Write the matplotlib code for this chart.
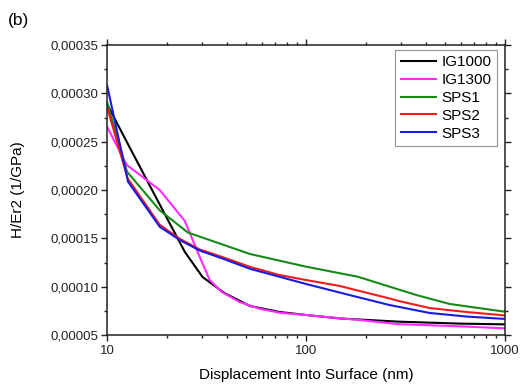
import matplotlib
matplotlib.use("Agg")
import matplotlib.pyplot as plt
from matplotlib.ticker import FuncFormatter, MultipleLocator, LogLocator, NullFormatter

plt.rcParams['font.family'] = ['Liberation Sans', 'DejaVu Sans']

# --- data ---
x_ig1000 = [10, 12.7, 18.4, 24.6, 30.2, 38.9, 52.3, 73.8, 100, 148, 220, 292, 590, 1000]
y_ig1000 = [2.89e-4, 2.48e-4, 1.85e-4, 1.36e-4, 1.10e-4, 0.934e-4, 0.80e-4, 0.738e-4,
            0.707e-4, 0.671e-4, 0.652e-4, 0.638e-4, 0.618e-4, 0.610e-4]

x_ig1300 = [10, 12.56, 18.4, 24.6, 29.2, 32.8, 37.7, 46.4, 58.5, 73.8, 100, 148, 186,
            292, 590, 1000]
y_ig1300 = [2.655e-4, 2.26e-4, 2.00e-4, 1.68e-4, 1.31e-4, 1.07e-4, 0.945e-4, 0.841e-4,
            0.772e-4, 0.73e-4, 0.707e-4, 0.673e-4, 0.655e-4, 0.612e-4, 0.590e-4, 0.569e-4]

x_sps1 = [10, 12.6, 18.4, 25.5, 52.3, 100, 182, 263, 358, 527, 1000]
y_sps1 = [2.91e-4, 2.19e-4, 1.79e-4, 1.56e-4, 1.338e-4, 1.207e-4, 1.103e-4, 1.00e-4,
          0.914e-4, 0.821e-4, 0.741e-4]

x_sps2 = [10, 12.7, 18.4, 23.2, 29.2, 37, 52.3, 73.8, 100, 148, 186, 263, 292, 418, 641, 1000]
y_sps2 = [2.86e-4, 2.12e-4, 1.64e-4, 1.495e-4, 1.385e-4, 1.315e-4, 1.205e-4, 1.12e-4,
          1.069e-4, 1.007e-4, 0.955e-4, 0.878e-4, 0.852e-4, 0.779e-4, 0.738e-4, 0.702e-4]

x_sps3 = [10, 12.75, 18.4, 23.2, 29.2, 37, 52.3, 100, 165, 263, 418, 641, 1000]
y_sps3 = [3.086e-4, 2.086e-4, 1.62e-4, 1.483e-4, 1.374e-4, 1.30e-4, 1.185e-4, 1.028e-4,
          0.914e-4, 0.81e-4, 0.728e-4, 0.691e-4, 0.666e-4]

names = ["IG1000", "IG1300", "SPS1", "SPS2", "SPS3"]
colores = ["#000000", "#ff2bff", "#168a16", "#f01c1c", "#1a1ae0"]

fig = plt.figure(figsize=(5.21, 3.92), dpi=100)
ax = fig.add_axes([0.2054, 0.1454, 0.7639, 0.7398])

series = [(x_ig1000, y_ig1000), (x_ig1300, y_ig1300), (x_sps1, y_sps1),
          (x_sps2, y_sps2), (x_sps3, y_sps3)]
for (xs, ys), nom, col in zip(series, names, colores):
    ax.plot(xs, ys, color=col, lw=1.5, label=nom)

ax.set_xscale('log')
ax.set_xlim(10, 1000)
ax.set_ylim(0.00005, 0.00035)

ax.yaxis.set_major_locator(MultipleLocator(0.00005))
ax.yaxis.set_minor_locator(MultipleLocator(0.000025))
ax.yaxis.set_major_formatter(FuncFormatter(lambda v, p: f"{v:.5f}".replace('.', ',')))
ax.xaxis.set_major_locator(LogLocator(base=10))
ax.xaxis.set_minor_locator(LogLocator(base=10, subs=range(2, 10)))
ax.xaxis.set_minor_formatter(NullFormatter())
ax.xaxis.set_major_formatter(FuncFormatter(lambda v, p: f"{v:g}"))

ax.tick_params(which='both', direction='out', top=True, right=True, width=1.0,
               colors='#222222', labelsize=9.5)
ax.tick_params(which='major', length=4)
ax.tick_params(which='minor', length=2.5)
ax.tick_params(axis='y', which='major', pad=2)
ax.tick_params(axis='x', which='major', pad=3)
for s in ax.spines.values():
    s.set_linewidth(1.1)
    s.set_color('#222222')

ax.set_xlabel("Displacement Into Surface (nm)", fontsize=11, va='center')
ax.set_ylabel("H/Er2 (1/GPa)", fontsize=11, va='center')
ax.xaxis.set_label_coords(0.501, -0.138)
ax.yaxis.set_label_coords(-0.224, 0.5)

leg = ax.legend(loc='upper right', bbox_to_anchor=(0.979, 0.983), borderaxespad=0,
                fontsize=11, frameon=True, fancybox=False, handlelength=2.3,
                handletextpad=0.35, labelspacing=0.25, borderpad=0.35)
leg.get_frame().set_edgecolor('#777777')
leg.get_frame().set_linewidth(0.8)

fig.text(0.016, 1 - 20 / 392, "(b)", fontsize=12.5, va='center', ha='left')

fig.savefig("out.png", dpi=100)
